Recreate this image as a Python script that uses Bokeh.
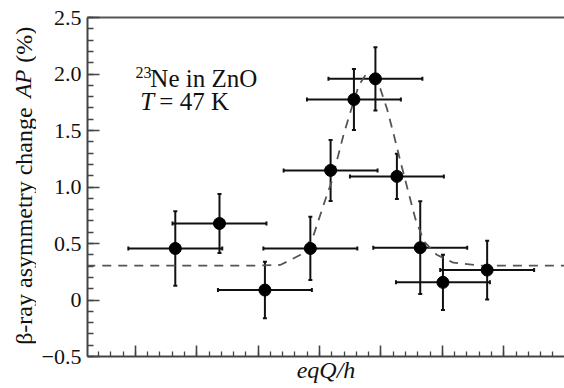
import math
from bokeh.plotting import figure
from bokeh.layouts import row
from bokeh.core.properties import value
from bokeh.models import (Range1d, SingleIntervalTicker, Whisker, ColumnDataSource,
                          Label, TeeHead, LinearAxis, CustomJSTickFormatter)
from bokeh.embed import file_html
from bokeh.resources import INLINE

# ---- data (x in arbitrary eqQ/h units) ----
x_vals = [0.65, 1.37, 2.11, 2.85, 3.18, 3.56, 3.91, 4.26, 4.64, 5.01, 5.73]
y_vals = [0.456, 0.677, 0.088, 0.456, 1.147, 1.774, 1.957, 1.094, 0.463, 0.156, 0.265]
y_err = [0.33, 0.26, 0.25, 0.28, 0.27, 0.27, 0.28, 0.20, 0.41, 0.245, 0.26]
x_err = [0.765, 0.765, 0.765, 0.765, 0.765, 0.765, 0.765, 0.765, 0.765, 0.765, 0.765]

fit_x = [-0.8, 2.0, 2.36, 2.69, 2.90, 3.01, 3.12, 3.20, 3.29, 3.39, 3.50, 3.64, 3.77,
         3.99, 4.10, 4.21, 4.32, 4.43, 4.56, 4.70, 4.91, 5.18, 5.6, 7.2]
fit_y = [0.305, 0.305, 0.31, 0.40, 0.57, 0.75, 0.93, 1.05, 1.25, 1.46, 1.66, 1.90, 2.01,
         1.87, 1.69, 1.46, 1.22, 0.99, 0.72, 0.52, 0.40, 0.33, 0.305, 0.305]

y_tick_overrides = {0: "0", -0.5: "\u22120.5", 0.5: "0.5", 1: "1.0", 1.5: "1.5", 2: "2.0", 2.5: "2.5"}

y_title_parts = ["\u03b2-ray asymmetry change", "AP", "(%)"]

FONT = "Liberation Serif"
INK = "#111111"
AXC = "#444444"
H = 388
YR = (-0.5, 2.5)
BT, BB = 17, 32   # top / bottom borders shared by both panels

# ---------- narrow strip holding the rotated y-axis title ----------
LW = 36
t = figure(width=LW, height=H, output_backend="svg", toolbar_location=None,
           x_range=Range1d(0, LW), y_range=Range1d(*YR),
           min_border_left=0, min_border_right=0, min_border_top=BT, min_border_bottom=BB,
           x_axis_type=None, y_axis_type=None)
t.outline_line_color = None
t.xgrid.grid_line_color = None
t.ygrid.grid_line_color = None
t.border_fill_color = "white"
TX = 23
rot = dict(angle=math.pi / 2, text_align="left", text_baseline="middle",
           text_font=value(FONT), text_color=INK)
t.text(x=[TX], y=[-0.397], text=[y_title_parts[0]], text_font_size="24px", **rot)
t.text(x=[TX], y=[1.79], text=[y_title_parts[1]], text_font_size="23px",
       text_font_style="italic", **rot)
t.text(x=[TX], y=[2.10], text=[y_title_parts[2]], text_font_size="24px", **rot)

# ---------- main plot ----------
p = figure(width=564 - LW, height=H, output_backend="svg", toolbar_location=None,
           x_range=Range1d(-0.78, 6.99), y_range=Range1d(*YR),
           min_border_left=87 - LW, min_border_right=0, min_border_top=BT, min_border_bottom=BB,
           x_axis_type=None, y_axis_type=None)
p.outline_line_color = None
p.xgrid.grid_line_color = None
p.ygrid.grid_line_color = None
p.background_fill_color = "white"
p.border_fill_color = "white"

# left axis
ya = LinearAxis(ticker=SingleIntervalTicker(interval=0.5, num_minor_ticks=5))
ya.major_label_overrides = y_tick_overrides
ya.major_tick_in = 12
ya.major_tick_out = 0
ya.minor_tick_in = 6
ya.minor_tick_out = 0
ya.axis_line_width = 2
ya.axis_line_color = AXC
ya.major_tick_line_color = AXC
ya.major_tick_line_width = 1.6
ya.minor_tick_line_color = AXC
ya.minor_tick_line_width = 1.3
ya.major_label_text_font = FONT
ya.major_label_text_font_size = "22px"
ya.major_label_text_color = INK
ya.major_label_standoff = 6
p.add_layout(ya, "left")

blank = CustomJSTickFormatter(code="return '';")

# bottom axis (no tick labels)
xa = LinearAxis(ticker=SingleIntervalTicker(interval=1, num_minor_ticks=5), formatter=blank)
xa.major_tick_in = 11
xa.major_tick_out = 0
xa.minor_tick_in = 5
xa.minor_tick_out = 0
xa.axis_line_width = 2
xa.axis_line_color = AXC
xa.major_tick_line_color = AXC
xa.major_tick_line_width = 1.6
xa.minor_tick_line_color = AXC
xa.minor_tick_line_width = 1.3
xa.major_label_standoff = 0
xa.axis_label = "eqQ/h"
xa.axis_label_text_font = FONT
xa.axis_label_text_font_style = "italic"
xa.axis_label_text_font_size = "24px"
xa.axis_label_text_color = INK
xa.axis_label_standoff = 0
p.add_layout(xa, "below")

# top frame line
ta = LinearAxis(major_tick_line_color=None, minor_tick_line_color=None, formatter=blank,
                major_label_standoff=0, axis_line_width=2, axis_line_color="#555555")
p.add_layout(ta, "above")

# fit curve
p.line(fit_x, fit_y, line_color="#555555", line_width=1.8, line_dash="9 7")

# error bars
src = ColumnDataSource(dict(
    x=x_vals, y=y_vals,
    xl=[a - b for a, b in zip(x_vals, x_err)], xu=[a + b for a, b in zip(x_vals, x_err)],
    yl=[a - b for a, b in zip(y_vals, y_err)], yu=[a + b for a, b in zip(y_vals, y_err)],
))
for dim, base, lo, up in (("width", "y", "xl", "xu"), ("height", "x", "yl", "yu")):
    w = Whisker(base=base, lower=lo, upper=up, dimension=dim, source=src,
                line_color=INK, line_width=2,
                upper_head=TeeHead(size=4, line_color=INK, line_width=2),
                lower_head=TeeHead(size=4, line_color=INK, line_width=2))
    p.add_layout(w)

p.scatter("x", "y", source=src, size=12, fill_color="black", line_color="black")

# annotation text inside the frame
def lab(x, y, text, size="25px", style="normal"):
    p.add_layout(Label(x=x, y=y, text=text, text_font=FONT, text_font_size=size,
                       text_font_style=style, text_color=INK, text_align="left",
                       text_baseline="alphabetic"))

lab(0.0, 2.015, "23", size="16px")
lab(0.244, 1.957, "Ne in ZnO")
lab(0.081, 1.756, "T", style="italic")
lab(0.39, 1.756, "= 47 K")

layout = row(t, p, spacing=0)
open("out.html", "w").write(file_html(layout, INLINE))
